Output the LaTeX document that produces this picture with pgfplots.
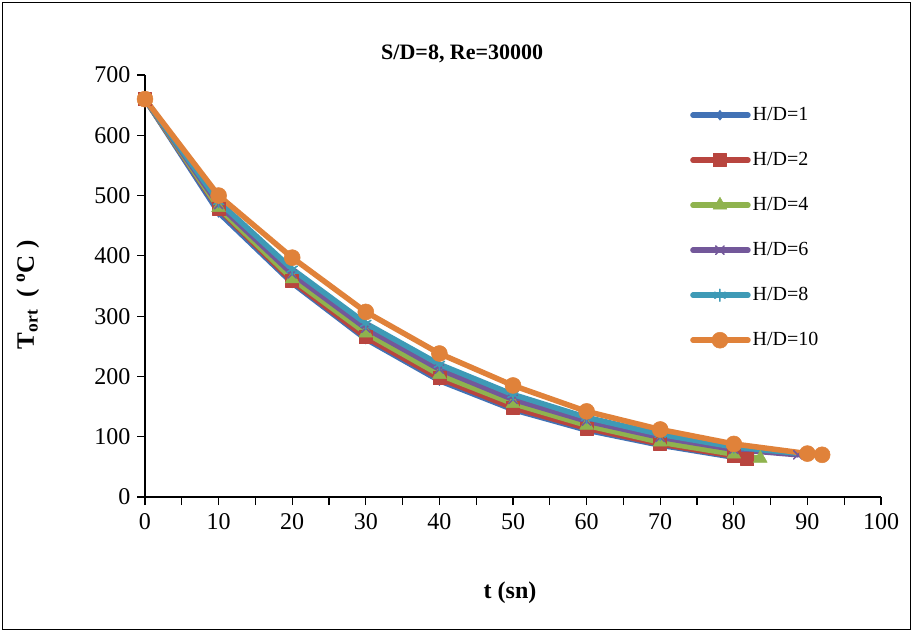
\documentclass[border=0pt]{standalone}
\usepackage{fontspec}
\setmainfont{Liberation Serif}
\usepackage{pgfplots}
\pgfplotsset{compat=1.18}

\definecolor{cblue}{HTML}{4272B5}
\definecolor{cred}{HTML}{B8453F}
\definecolor{cgreen}{HTML}{8FB34E}
\definecolor{cpurple}{HTML}{73589A}
\definecolor{ccyan}{HTML}{3E9AB6}
\definecolor{corange}{HTML}{E0823A}

\begin{document}
\begin{tikzpicture}
\fill[white] (-145pt,-137pt) rectangle (768pt,497pt);
\draw[line width=1pt] (-142pt,-133pt) rectangle (765pt,494pt);
\begin{axis}[
  at={(0pt,0pt)}, anchor=origin,
  scale only axis, width=736pt, height=422pt,
  xmin=0, xmax=100, ymin=0, ymax=700,
  axis lines=left, axis line style={-, line width=1.5pt},
  xtick={0,10,...,100}, minor xtick={5,15,...,95},
  ytick={0,100,...,700},
  tick align=outside, major tick length=8pt, minor tick length=8pt,
  every tick/.style={black, line width=1.2pt},
  tick label style={font=\fontsize{24}{26}\selectfont},
  /pgf/number format/assume math mode=true,
  xticklabel style={yshift=-5pt},
  yticklabel style={xshift=-3pt},
  title={\bfseries S/D=8, Re=30000},
  title style={font=\fontsize{22}{24}\selectfont, at={(axis description cs:0.431,1.036)}, anchor=center},
  xlabel={\bfseries t (sn)},
  xlabel style={font=\fontsize{24}{26}\selectfont, at={(axis description cs:0.496,-0.227)}, anchor=center},
  ylabel={\bfseries T\textsubscript{ort} \ ( \textsuperscript{o}C )},
  ylabel style={font=\fontsize{25}{27}\selectfont, at={(axis description cs:-0.159,0.479)}, anchor=center},
  legend style={draw=none, fill=none, at={(axis description cs:0.7405,0.9265)}, anchor=north west,
    inner sep=0pt, row sep=27pt,
    nodes={inner xsep=2pt, inner ysep=0pt, text height=14pt, text depth=4pt},
    font=\fontsize{20}{22}\selectfont},
  legend cell align=left,
  legend image code/.code={\draw[mark repeat=2, mark phase=2] plot coordinates {(0pt,0pt) (27pt,0pt) (55pt,0pt)};},
  every axis plot/.append style={line width=5.5pt, line join=round, line cap=round},
]
\addplot[cblue, mark=diamond*, mark size=5pt, mark options={solid, line width=0.5pt}] coordinates {
  (0,660) (10,472) (20,355) (30,262) (40,193) (50,145) (60,111) (70,86) (80,66) (81,64)
};
\addlegendentry{H/D=1}
\addplot[cred, mark=square*, mark size=6.5pt, mark options={solid, line width=0.5pt}] coordinates {
  (0,660) (10,478) (20,358) (30,265) (40,197) (50,148) (60,114) (70,88) (80,68) (81.8,63)
};
\addlegendentry{H/D=2}
\addplot[cgreen, mark=triangle*, mark size=8pt, mark options={solid, line width=0.5pt}] coordinates {
  (0,660) (10,480) (20,362) (30,272) (40,203) (50,155) (60,119) (70,91) (80,71) (83.6,64)
};
\addlegendentry{H/D=4}
\addplot[cpurple, mark=x, mark size=6pt, mark options={solid, line width=1.5pt}] coordinates {
  (0,660) (10,485) (20,370) (30,280) (40,212) (50,162) (60,126) (70,99) (80,79) (88.7,70)
};
\addlegendentry{H/D=6}
\addplot[ccyan, mark=asterisk, mark size=6pt, mark options={solid, line width=1.5pt}] coordinates {
  (0,660) (10,490) (20,378) (30,288) (40,220) (50,170) (60,132) (70,104) (80,83) (90,71)
};
\addlegendentry{H/D=8}
\addplot[corange, mark=*, mark size=8pt, mark options={solid, line width=0.5pt}] coordinates {
  (0,660) (10,500) (20,397) (30,307) (40,238) (50,185) (60,142) (70,112) (80,88) (90,72) (92,70)
};
\addlegendentry{H/D=10}
\end{axis}
\end{tikzpicture}
\end{document}
